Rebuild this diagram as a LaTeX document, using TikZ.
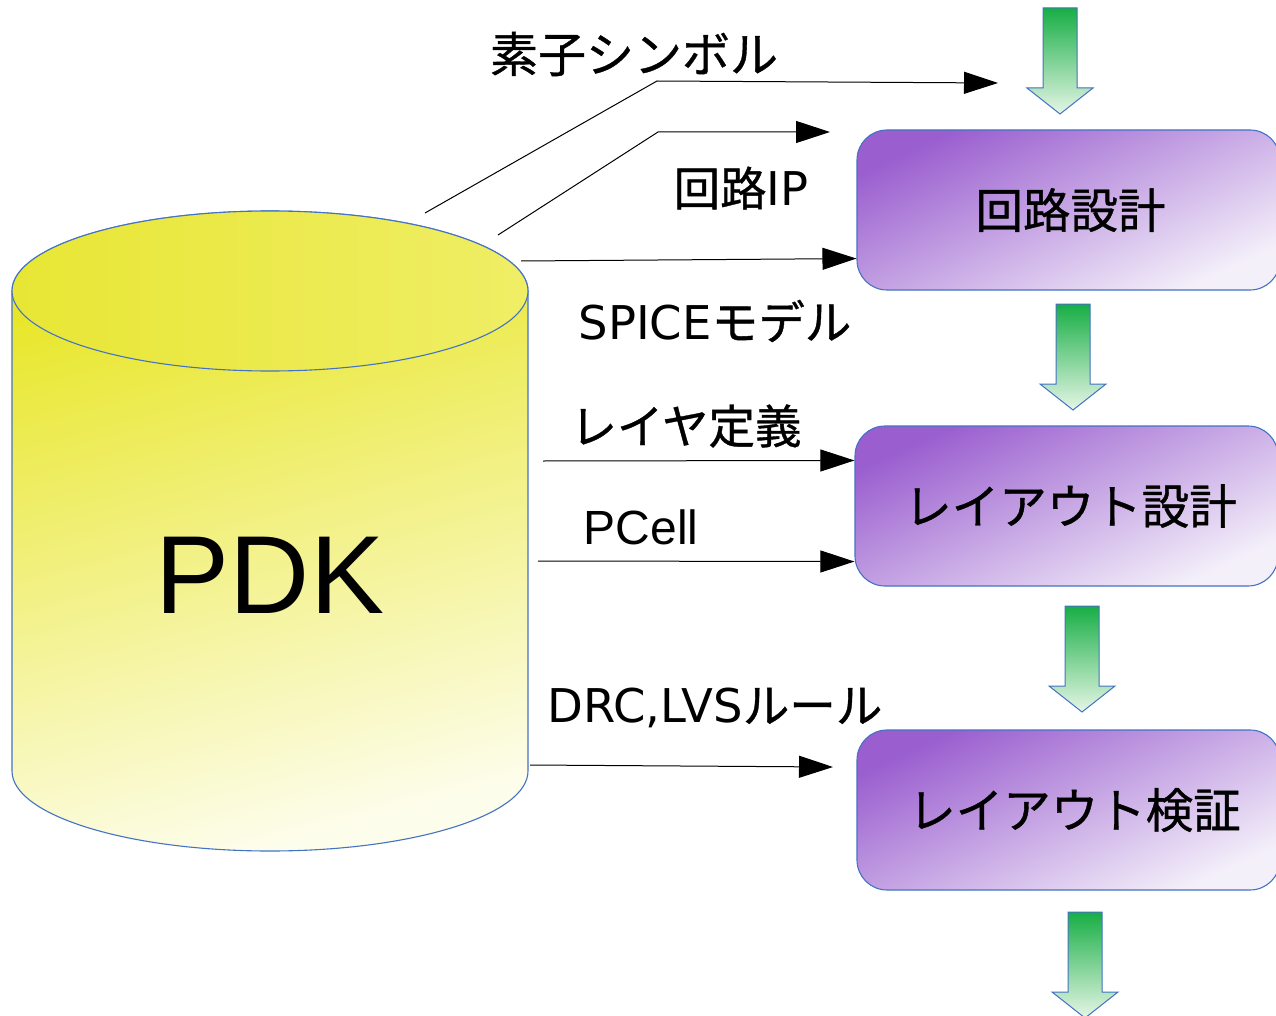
\documentclass[tikz,border=0pt]{standalone}
\usepackage{fontspec}
\setmainfont{DejaVu Sans}
\newfontfamily\jpf[FakeBold=0.8]{Noto Sans CJK JP}
\newfontfamily\arialf{Liberation Sans}
\usetikzlibrary{arrows.meta,calc}

\definecolor{edgeblue}{HTML}{4472C4}
\definecolor{cylA}{HTML}{E7E51F}
\definecolor{cylB}{HTML}{FDFDEC}
\definecolor{capA}{HTML}{E8E634}
\definecolor{capB}{HTML}{EFEE66}
\definecolor{boxA}{HTML}{9A5ECF}
\definecolor{boxB}{HTML}{F4F0FA}
\definecolor{grnA}{HTML}{17AE45}
\definecolor{grnB}{HTML}{E6F6E6}

\tikzset{
  stagebox/.style={rectangle, rounded corners=30pt, draw=edgeblue, line width=1.1pt,
    top color=boxA, bottom color=boxB, shading angle=25,
    minimum width=423pt, minimum height=160pt, inner sep=0pt,
    font=\jpf\fontsize{47.5pt}{56pt}\selectfont},
  feed/.style={draw=black, line width=1pt, -{Triangle[length=34pt,width=22pt]}},
  lbl/.style={inner sep=0pt, anchor=center, font=\fontsize{46.5pt}{55pt}\selectfont},
  downarrow/.pic={
    \draw[draw=edgeblue, line width=1pt, top color=grnA, bottom color=grnB]
      (-17,0) -- (17,0) -- (17,-80) -- (33,-80) -- (0,-106) -- (-33,-80) -- (-17,-80) -- cycle;
  }
}

\begin{document}
\begin{tikzpicture}[x=1pt,y=1pt]
\useasboundingbox (0,0) rectangle (1276,-1016);
\fill[white] (0,0) rectangle (1276,-1016);
\clip (0,0) rectangle (1276,-1016);

% PDK cylinder
\draw[draw=edgeblue, line width=1.1pt, top color=cylA, bottom color=cylB, shading angle=15]
  (12,-291) -- (12,-771) arc[start angle=180, end angle=360, x radius=258pt, y radius=80pt]
  -- (528,-291) arc[start angle=0, end angle=180, x radius=258pt, y radius=80pt] -- cycle;
\draw[draw=edgeblue, line width=1.1pt, left color=capA, right color=capB]
  (270,-291) ellipse[x radius=258pt, y radius=80pt];
\node[inner sep=0pt, font=\arialf\fontsize{111pt}{128pt}\selectfont] (pdk) at (270,-575) {PDK};

% design stages
\node[stagebox] (b1) at (1068.5,-210) {\hspace*{4pt}回路設計};
\node[stagebox] (b2) at (1066.5,-506) {\hspace*{8pt}レイアウト設計};
\node[stagebox] (b3) at (1068.5,-810) {\hspace*{12pt}レイアウト検証};

% flow arrows between stages
\pic at (1060,-8) {downarrow};
\pic at (1073,-304) {downarrow};
\pic at (1082,-606) {downarrow};
\pic at (1085,-912) {downarrow};

% data supplied by the PDK
\coordinate (s1) at (425,-213);
\coordinate (k1) at (657,-81);
\coordinate (e1) at (998,-83);
\coordinate (s2) at (498,-235);
\coordinate (k2) at (658,-132);
\coordinate (e2) at (830,-132);
\coordinate (s3) at (521,-261);
\coordinate (s4) at (543,-461);
\coordinate (s5) at (538,-561);
\coordinate (s6) at (530,-765);
\coordinate (e6) at (833,-767);

\draw[feed] (s1) -- (k1) -- (e1);
\draw[feed] (s2) -- (k2) -- (e2);
\draw[feed] (s3) -- ($(b1.south west)+(0,32)$);
\draw[feed] (s4) -- ($(b2.north west)+(0,-35)$);
\draw[feed] (s5) -- ($(b2.south west)+(0,25)$);
\draw[feed] (s6) -- (e6);

\node[lbl] (l1) at (634,-54) {\jpf\fontsize{48pt}{56pt}\selectfont 素子シンボル};
\node[lbl] (l2) at (741,-188) {{\jpf 回路}IP};
\node[lbl] (l3) at (715,-321) {SPICE{\jpf モデル}};
\node[lbl] (l4) at (686,-426) {\jpf レイヤ定義};
\node[lbl, font=\arialf\fontsize{48pt}{56pt}\selectfont] (l5) at (641,-527) {PCell};
\node[lbl] (l6) at (715,-708) {DRC,LVS{\jpf ルール}};
\end{tikzpicture}
\end{document}
